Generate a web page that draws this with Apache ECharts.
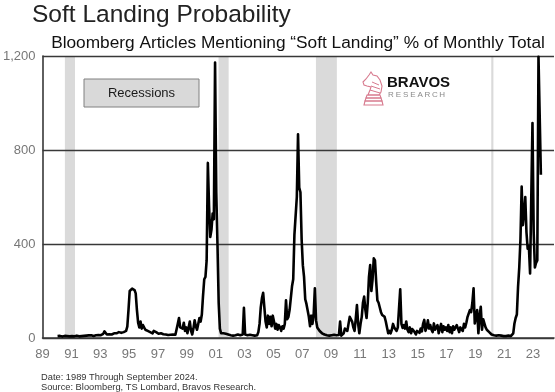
<!DOCTYPE html>
<html><head><meta charset="utf-8">
<script src="https://cdn.jsdelivr.net/npm/echarts@6/dist/echarts.min.js"></script>
<style>html,body{margin:0;padding:0;background:#fff}#c{width:555px;height:392px}</style>
</head><body><div id="c"></div>
<script>
// ---------- data ----------
const BASE_YEAR = 1989;           // left edge of the date axis
const SERIES_START_YEAR = 1990;   // first monthly value as drawn
// Soft-landing articles, % of monthly total (monthly values)
const values = [
  8,7,9,8,6,8,9,7,8,8,7,9,                 // 1990
  8,9,7,8,10,8,7,9,8,10,9,8,               // 1991
  10,9,11,10,12,10,9,11,12,10,13,12,       // 1992
  12,14,18,28,22,15,14,16,18,15,17,20,     // 1993
  18,20,22,25,20,22,28,25,24,30,48,120,    // 1994
  200,208,210,206,204,190,120,65,45,70,40,55, // 1995
  50,35,42,30,38,25,28,20,30,22,25,18,     // 1996
  18,15,20,14,16,12,15,18,13,16,14,17,     // 1997
  15,18,14,20,60,85,45,50,40,65,30,45,     // 1998
  20,45,70,30,15,40,75,50,35,60,85,70,     // 1999
  100,180,250,260,330,745,560,430,460,530,505,1172, // 2000
  620,400,150,40,20,15,20,12,18,10,15,12,  // 2001
  12,15,10,18,12,8,15,10,12,8,15,128,      // 2002
  15,10,12,8,14,10,12,15,10,14,12,25,      // 2003
  60,130,170,192,130,70,45,95,60,90,50,95, // 2004
  70,40,60,35,55,45,30,50,40,60,160,80,    // 2005
  90,120,170,220,250,440,520,600,867,640,620,420, // 2006
  310,260,165,145,140,90,50,95,60,100,211,75, // 2007
  45,40,30,25,20,22,15,18,12,15,10,12,     // 2008
  12,10,14,10,12,15,13,70,10,15,20,40,     // 2009
  43,30,60,90,98,70,45,30,80,140,60,20,    // 2010
  60,90,150,176,120,85,150,260,310,200,250,339, // 2011
  330,240,160,150,130,110,98,95,90,70,45,20, // 2012
  30,20,35,60,45,37,30,45,50,207,60,43,    // 2013
  55,40,70,35,25,45,20,38,30,25,15,30,     // 2014
  35,22,40,28,60,77,30,45,75,40,55,35,     // 2015
  25,62,35,30,55,20,40,60,25,50,35,45,     // 2016
  30,55,25,45,20,50,35,30,55,40,25,45,     // 2017
  50,30,60,45,65,90,90,119,110,150,211,62, // 2018
  62,119,20,90,133,35,80,62,45,35,30,25,   // 2019
  20,15,18,12,15,10,8,12,6,10,14,8,        // 2020
  10,8,15,10,12,8,15,20,62,85,100,218,     // 2021
  300,420,644,480,530,600,450,380,390,275,600,915, // 2022
  450,300,320,330,1197,1190,695            // 2023
];
const recessionStart = [1990.55, 2001.2, 2007.95, 2020.1];
const recessionEnd   = [1991.25, 2001.9, 2009.4, 2020.25];
const xTickLabels = ['89','91','93','95','97','99','01','03','05','07','09','11','13','15','17','19','21','23'];
const yMax = 1200, yStep = 400;
const xSpanYears = 35.45;

// ---------- chart ----------
const seriesData = values.map((v, i) => [SERIES_START_YEAR - BASE_YEAR + (i + 0.5) / 12, v]);
const areas = recessionStart.map((s, i) => [{xAxis: s - BASE_YEAR}, {xAxis: recessionEnd[i] - BASE_YEAR}]);
const FONT = 'Arial, "Liberation Sans", sans-serif';
const GRID_COLOR = '#383838';
const LOGO_PINK = '#d77a8e';

// knight logo outline (local icon coordinates)
const knightHead = [[8,0],[10,3],[14,4],[17,8],[19,14],[18,20],[16,23],[5,23],[7,18],[8,15],[4,14],[1,13],[0,10],[3,7],[6,3]];
const knightBase = [
  [[4,23],[17,23],[18,26],[3,26]],
  [[3,26],[18,26],[19,29],[2,29]],
  [[2,29],[19,29],[20,33],[1,33]]
];
const knightStripes = [[[9,10],[16,13]], [[8,14],[17,17]], [[7,18],[17,21]]];

const chart = echarts.init(document.getElementById('c'), null, {renderer: 'canvas'});
const researchLetters = 'RESEARCH'.split('');
const logoX = 363, logoY = 72;
const logoElems = [
  {type: 'polygon', shape: {points: knightHead}, style: {fill: 'none', stroke: LOGO_PINK, lineWidth: 1.1}},
  ...knightBase.map(p => ({type: 'polygon', shape: {points: p}, style: {fill: 'none', stroke: LOGO_PINK, lineWidth: 1.1}})),
  ...knightStripes.map(p => ({type: 'polyline', shape: {points: p}, style: {fill: 'none', stroke: LOGO_PINK, lineWidth: 1}}))
];

chart.setOption({
  animation: false,
  backgroundColor: '#ffffff',
  grid: {left: 40, right: 1, top: 56, bottom: 54, containLabel: false},
  xAxis: {
    type: 'value', min: 0, max: xSpanYears, interval: 2, z: 2,
    axisLine: {show: true, lineStyle: {color: GRID_COLOR, width: 1.6}},
    axisTick: {show: false},
    splitLine: {show: false},
    axisLabel: {
      color: '#777', fontSize: 13, fontFamily: FONT, margin: 10, showMaxLabel: false,
      formatter: v => (Math.abs(v / 2 - Math.round(v / 2)) < 1e-6 && xTickLabels[Math.round(v / 2)]) || ''
    }
  },
  yAxis: {
    type: 'value', min: 0, max: yMax, interval: yStep, z: 2,
    axisLine: {show: true, lineStyle: {color: GRID_COLOR, width: 1.6}},
    axisTick: {show: false},
    splitLine: {show: true, lineStyle: {color: GRID_COLOR, width: 1.3}},
    axisLabel: {color: '#777', fontSize: 13, fontFamily: FONT, margin: 7,
      formatter: v => v.toLocaleString('en-US')}
  },
  series: [{
    type: 'line', data: seriesData, showSymbol: false, z: 3,
    lineStyle: {color: '#000', width: 2.6, join: 'round'},
    markArea: {silent: true, z: 1, itemStyle: {color: '#dadada'}, data: areas}
  }],
  graphic: [
    {type: 'text', x: 32, y: 15, style: {text: 'Soft Landing Probability', fill: '#222', font: '24.5px ' + FONT, verticalAlign: 'middle'}},
    {type: 'text', x: 298, y: 43, style: {text: 'Bloomberg Articles Mentioning \u201cSoft Landing\u201d % of Monthly Total', fill: '#111', font: '17.3px ' + FONT, align: 'center', verticalAlign: 'middle'}},
    {type: 'rect', shape: {x: 84, y: 79, width: 115, height: 28}, style: {fill: '#d9d9d9', stroke: '#808080', lineWidth: 1}, z: 10},
    {type: 'text', x: 141.5, y: 93, style: {text: 'Recessions', fill: '#1a1a1a', font: '13px ' + FONT, align: 'center', verticalAlign: 'middle'}, z: 11},
    {type: 'group', x: logoX, y: logoY, z: 10, children: logoElems},
    {type: 'text', x: 387, y: 83, style: {text: 'BRAVOS', fill: '#111', font: 'bold 15px ' + FONT, verticalAlign: 'middle'}, z: 10},
    ...researchLetters.map((ch, i) => ({type: 'text', x: 391 + i * 7.3, y: 94.5, style: {text: ch, fill: '#8a8a8a', font: '8px ' + FONT, align: 'center', verticalAlign: 'middle'}, z: 10})),
    {type: 'text', x: 41, y: 377, style: {text: 'Date: 1989 Through September 2024.', fill: '#333', font: '9.3px ' + FONT, verticalAlign: 'middle'}},
    {type: 'text', x: 41, y: 387.5, style: {text: 'Source: Bloomberg, TS Lombard, Bravos Research.', fill: '#333', font: '9.3px ' + FONT, verticalAlign: 'middle'}}
  ]
});
</script>
</body></html>
